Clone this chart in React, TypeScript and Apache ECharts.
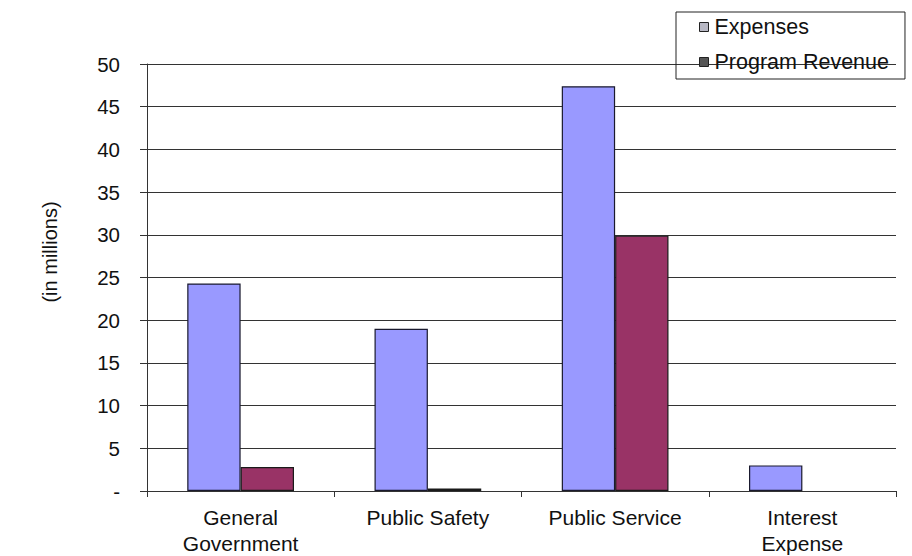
import React, { useEffect, useRef } from "react";
import * as echarts from "echarts";

const categories = ["General\nGovernment", "Public Safety", "Public Service", "Interest\nExpense"];
const expenses = [24.3, 19.0, 47.4, 3.0];
const programRevenue: (number | null)[] = [2.8, 0.3, 29.9, null];
const yTicks = [0, 5, 10, 15, 20, 25, 30, 35, 40, 45, 50];
const yAxisTitle = "(in millions)";

export default function App() {
  const ref = useRef<HTMLDivElement>(null);
  useEffect(() => {
    const chart = echarts.init(ref.current!, undefined, { renderer: "svg" });
    const font = "Liberation Sans, Arial, sans-serif";
    chart.setOption({
      animation: false,
      backgroundColor: "#fff",
      textStyle: { fontFamily: font },
      legend: {
        orient: "vertical",
        left: 676,
        top: 12,
        padding: [4, 16, 6, 23],
        itemGap: 13,
        itemWidth: 9,
        itemHeight: 9,
        borderColor: "#222",
        borderWidth: 1,
        textStyle: { fontSize: 21.5, color: "#111", fontFamily: font, padding: [0, 0, 0, 1] },
        data: [
          { name: "Expenses", icon: "rect", itemStyle: { color: "#b8b8c4", borderColor: "#222", borderWidth: 1 } },
          { name: "Program Revenue", icon: "rect", itemStyle: { color: "#555", borderColor: "#222", borderWidth: 1 } },
        ],
      },
      graphic: [
        {
          type: "text",
          x: 50,
          y: 252,
          rotation: Math.PI / 2,
          style: {
            text: yAxisTitle,
            fontSize: 20,
            fontFamily: font,
            fill: "#111",
            align: "center",
            verticalAlign: "middle",
          },
        },
      ],
      grid: { left: 147, right: 16, top: 64, bottom: 62, containLabel: false },
      xAxis: {
        type: "category",
        data: categories,
        axisLine: { lineStyle: { color: "#333", width: 1 } },
        axisTick: { show: true, alignWithLabel: false, length: 6, lineStyle: { color: "#333" } },
        axisLabel: { fontSize: 21, color: "#111", lineHeight: 26, margin: 13, fontFamily: font, interval: 0 },
      },
      yAxis: {
        type: "value",
        min: 0,
        max: 50,
        interval: 5,
        axisLine: { show: true, lineStyle: { color: "#333" } },
        axisTick: { show: true, length: 7, lineStyle: { color: "#333" } },
        axisLabel: {
          fontSize: 20.5,
          color: "#111",
          margin: 27,
          fontFamily: font,
          formatter: (v: number) => (yTicks.includes(v) ? (v === 0 ? "-" : String(v)) : ""),
        },
        splitLine: { show: true, lineStyle: { color: "#333", width: 1 } },
      },
      series: [
        {
          name: "Expenses",
          type: "bar",
          data: expenses,
          barGap: "0%",
          barCategoryGap: "43%",
          itemStyle: { color: "#9999ff", borderColor: "#1a1a2e", borderWidth: 1.2 },
        },
        {
          name: "Program Revenue",
          type: "bar",
          data: programRevenue,
          itemStyle: { color: "#993366", borderColor: "#1a1a1a", borderWidth: 1.2 },
        },
      ],
    });
    return () => chart.dispose();
  }, []);
  return <div ref={ref} style={{ width: 912, height: 556, position: "absolute", left: 0, top: 0 }} />;
}
